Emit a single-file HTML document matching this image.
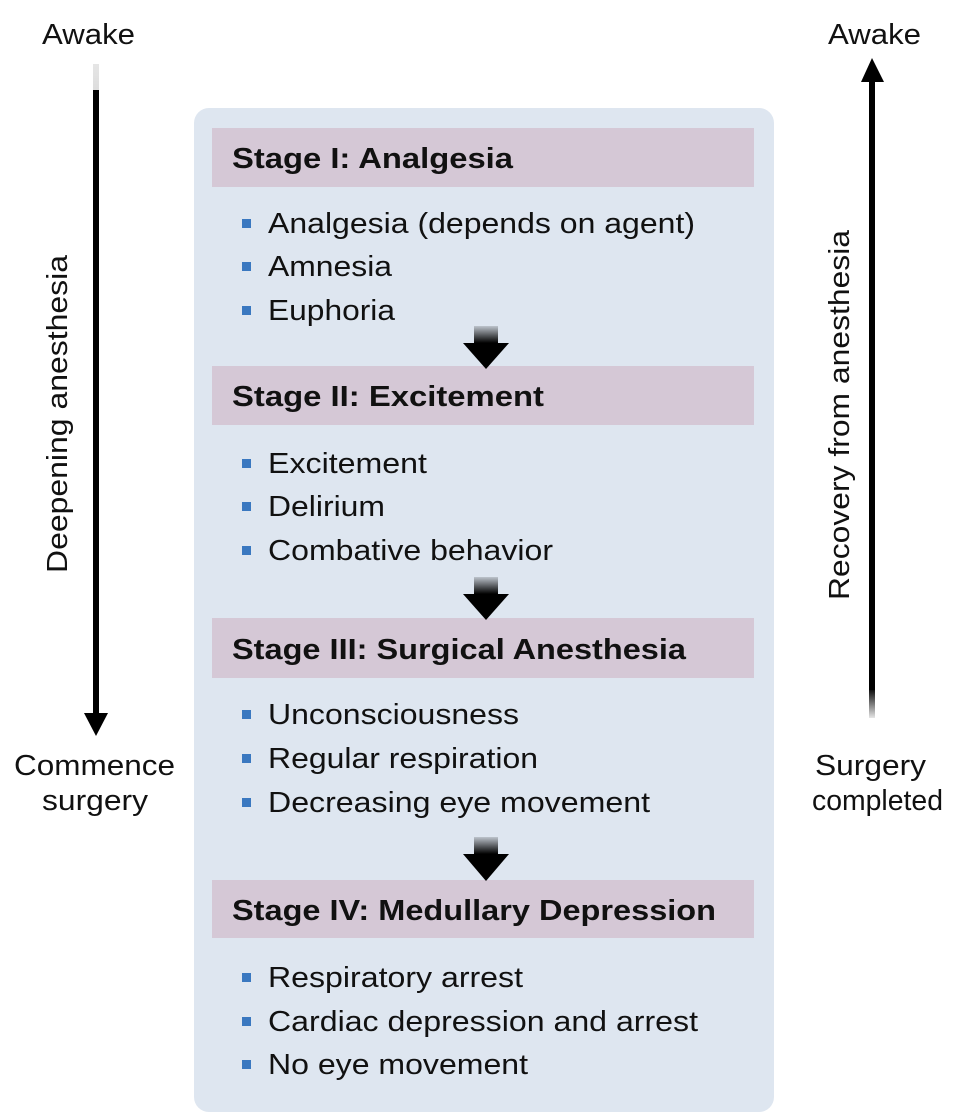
<!DOCTYPE html>
<html><head><meta charset="utf-8"><style>
html,body{margin:0;padding:0;background:#fff;}
svg{display:block;}
text{font-family:"Liberation Sans",Arial,sans-serif;fill:#111;}
.h{font-weight:bold;font-size:29px;}
.b{font-size:29px;}
.l{font-size:29px;}
</style></head><body>
<svg width="956" height="1114" viewBox="0 0 956 1114" xmlns="http://www.w3.org/2000/svg">
<defs>
<linearGradient id="stem" x1="0" y1="0" x2="0" y2="1">
<stop offset="0" stop-color="#000" stop-opacity="0.15"/>
<stop offset="1" stop-color="#000" stop-opacity="1"/>
</linearGradient>
<linearGradient id="lline" x1="0" y1="0" x2="0" y2="1">
<stop offset="0" stop-color="#000" stop-opacity="0.1"/>
<stop offset="1" stop-color="#000" stop-opacity="1"/>
</linearGradient>
<linearGradient id="rline" x1="0" y1="0" x2="0" y2="1">
<stop offset="0" stop-color="#000" stop-opacity="1"/>
<stop offset="1" stop-color="#000" stop-opacity="0.1"/>
</linearGradient>
</defs>
<rect x="194" y="108" width="580" height="1004" rx="15" fill="#dee6f0"/>
<g fill="#d5c8d6">
<rect x="212" y="128" width="542" height="59"/>
<rect x="212" y="366" width="542" height="59"/>
<rect x="212" y="618" width="542" height="60"/>
<rect x="212" y="880" width="542" height="58"/>
</g>
<text class="h" x="232" y="168" textLength="281" lengthAdjust="spacingAndGlyphs">Stage I:  Analgesia</text>
<text class="h" x="232" y="406" textLength="312" lengthAdjust="spacingAndGlyphs">Stage II:  Excitement</text>
<text class="h" x="232" y="659" textLength="454" lengthAdjust="spacingAndGlyphs">Stage III:  Surgical Anesthesia</text>
<text class="h" x="232" y="920" textLength="484" lengthAdjust="spacingAndGlyphs">Stage IV:  Medullary Depression</text>
<g fill="#3a78c0">
<rect x="242" y="219" width="9" height="9"/><rect x="242" y="262" width="9" height="9"/><rect x="242" y="306" width="9" height="9"/>
<rect x="242" y="459" width="9" height="9"/><rect x="242" y="502" width="9" height="9"/><rect x="242" y="546" width="9" height="9"/>
<rect x="242" y="710" width="9" height="9"/><rect x="242" y="754" width="9" height="9"/><rect x="242" y="798" width="9" height="9"/>
<rect x="242" y="973" width="9" height="9"/><rect x="242" y="1017" width="9" height="9"/><rect x="242" y="1060" width="9" height="9"/>
</g>
<text class="b" x="268" y="233" textLength="427" lengthAdjust="spacingAndGlyphs">Analgesia (depends on agent)</text>
<text class="b" x="268" y="276" textLength="124" lengthAdjust="spacingAndGlyphs">Amnesia</text>
<text class="b" x="268" y="320" textLength="127" lengthAdjust="spacingAndGlyphs">Euphoria</text>
<text class="b" x="268" y="473" textLength="159" lengthAdjust="spacingAndGlyphs">Excitement</text>
<text class="b" x="268" y="516" textLength="117" lengthAdjust="spacingAndGlyphs">Delirium</text>
<text class="b" x="268" y="560" textLength="285" lengthAdjust="spacingAndGlyphs">Combative behavior</text>
<text class="b" x="268" y="724" textLength="251" lengthAdjust="spacingAndGlyphs">Unconsciousness</text>
<text class="b" x="268" y="768" textLength="270" lengthAdjust="spacingAndGlyphs">Regular respiration</text>
<text class="b" x="268" y="812" textLength="382" lengthAdjust="spacingAndGlyphs">Decreasing eye movement</text>
<text class="b" x="268" y="987" textLength="255" lengthAdjust="spacingAndGlyphs">Respiratory arrest</text>
<text class="b" x="268" y="1031" textLength="430" lengthAdjust="spacingAndGlyphs">Cardiac depression and arrest</text>
<text class="b" x="268" y="1074" textLength="260" lengthAdjust="spacingAndGlyphs">No eye movement</text>
<!-- stage arrows -->
<rect x="474" y="326" width="24" height="17" fill="url(#stem)"/><polygon points="463,343 509,343 486,369" fill="#000"/>
<rect x="474" y="577" width="24" height="17" fill="url(#stem)"/><polygon points="463,594 509,594 486,620" fill="#000"/>
<rect x="474" y="837" width="24" height="17" fill="url(#stem)"/><polygon points="463,854 509,854 486,881" fill="#000"/>
<!-- left -->
<text class="l" x="42" y="44" textLength="93" lengthAdjust="spacingAndGlyphs">Awake</text>
<rect x="93" y="64" width="6" height="652" fill="url(#lline)"/>
<rect x="93" y="90" width="6" height="626" fill="#000"/>
<polygon points="84,713 108,713 96,736" fill="#000"/>
<text class="l" transform="translate(67,414) rotate(-90)" text-anchor="middle" textLength="318" lengthAdjust="spacingAndGlyphs">Deepening anesthesia</text>
<text class="l" x="14" y="775" textLength="161" lengthAdjust="spacingAndGlyphs">Commence</text>
<text class="l" x="42" y="810" textLength="106" lengthAdjust="spacingAndGlyphs">surgery</text>
<!-- right -->
<text class="l" x="828" y="44" textLength="93" lengthAdjust="spacingAndGlyphs">Awake</text>
<polygon points="861,82 884,82 872,58" fill="#000"/>
<rect x="869" y="80" width="6" height="610" fill="#000"/>
<rect x="869" y="688" width="6" height="30" fill="url(#rline)"/>
<text class="l" transform="translate(849,415) rotate(-90)" text-anchor="middle" textLength="370" lengthAdjust="spacingAndGlyphs">Recovery from anesthesia</text>
<text class="l" x="815" y="775" textLength="111" lengthAdjust="spacingAndGlyphs">Surgery</text>
<text class="l" x="812" y="810" textLength="131" lengthAdjust="spacingAndGlyphs">completed</text>
</svg>
</body></html>
